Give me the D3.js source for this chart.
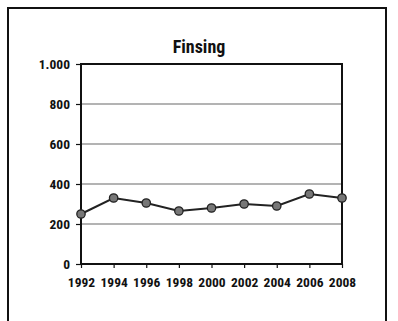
<!DOCTYPE html>
<html><head><meta charset="utf-8">
<script src="https://cdn.jsdelivr.net/npm/d3@7"></script>
<style>
html,body{margin:0;padding:0;background:#fff;}
svg{display:block;}
text{font-family:"Liberation Sans Narrow","Arial Narrow","Roboto Condensed","Liberation Sans",sans-serif;font-stretch:condensed;}
</style></head><body>
<svg id="c" width="398" height="321"></svg>
<script>
const title = "Finsing";
const years = ["1992","1994","1996","1998","2000","2002","2004","2006","2008"];
const values = [250, 330, 305, 265, 280, 300, 290, 350, 330];
const yTicks = [0, 200, 400, 600, 800, 1000];
const yTickLabels = ["0","200","400","600","800","1.000"];

const svg = d3.select("#c");
const m = {left: 81, right: 342, top: 64, bottom: 264};

// outer frame
svg.append("rect").attr("x", 8).attr("y", 8).attr("width", 378).attr("height", 330)
  .attr("fill", "none").attr("stroke", "#111").attr("stroke-width", 2);

const x = d3.scalePoint().domain(years).range([m.left, m.right]);
const y = d3.scaleLinear().domain([0, 1000]).range([m.bottom, m.top]);

// gridlines
svg.append("g").selectAll("line").data(yTicks.filter(d => d > 0 && d < 1000)).join("line")
  .attr("x1", m.left).attr("x2", m.right)
  .attr("y1", d => y(d)).attr("y2", d => y(d))
  .attr("stroke", "#9a9a9a").attr("stroke-width", 1.5);

// plot border
svg.append("rect").attr("x", m.left).attr("y", m.top)
  .attr("width", m.right - m.left).attr("height", m.bottom - m.top)
  .attr("fill", "none").attr("stroke", "#111").attr("stroke-width", 2);

// y axis
const yAxis = d3.axisLeft(y).tickValues(yTicks).tickSize(5).tickPadding(6)
  .tickFormat((d, i) => yTickLabels[i]);
const gy = svg.append("g").attr("transform", `translate(${m.left},0)`).call(yAxis);
gy.select(".domain").remove();
gy.selectAll(".tick line").attr("stroke", "#111").attr("stroke-width", 1.2);
gy.selectAll("text").attr("font-size", 13.5).attr("font-weight", "bold").attr("fill", "#111");

// x axis
const xAxis = d3.axisBottom(x).tickSize(4).tickPadding(9);
const gx = svg.append("g").attr("transform", `translate(0,${m.bottom})`).call(xAxis);
gx.select(".domain").remove();
gx.selectAll(".tick line").attr("stroke", "#111").attr("stroke-width", 1.2);
gx.selectAll("text").attr("font-size", 13.5).attr("font-weight", "bold").attr("fill", "#111");

// line
const line = d3.line().x((d, i) => x(years[i])).y(d => y(d));
svg.append("path").datum(values).attr("d", line)
  .attr("fill", "none").attr("stroke", "#222").attr("stroke-width", 2);

// markers
svg.append("g").selectAll("circle").data(values).join("circle")
  .attr("cx", (d, i) => x(years[i])).attr("cy", d => y(d)).attr("r", 4.2)
  .attr("fill", "#777").attr("stroke", "#222").attr("stroke-width", 1.3);

// title
svg.append("text").attr("x", 199).attr("y", 53).attr("text-anchor", "middle")
  .attr("font-size", 18).attr("font-weight", "bold").attr("fill", "#111").text(title);
</script>
</body></html>
